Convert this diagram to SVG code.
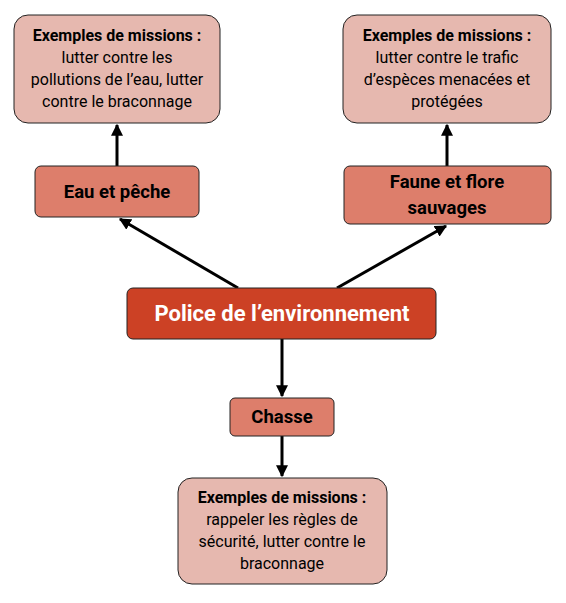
<svg xmlns="http://www.w3.org/2000/svg" width="566" height="603" viewBox="0 0 566 603">
<defs>
<style>
.ex{fill:#e6b8af;stroke:#222;stroke-width:1}
.md{fill:#dd7e6b;stroke:#222;stroke-width:1}
.mn{fill:#cc4125;stroke:#222;stroke-width:1}
text{font-family:Roboto,"Liberation Sans",sans-serif;text-anchor:middle;fill:#000}
.t{font-size:16px}
.b{font-weight:bold;font-size:16px}
.lab{font-size:18.5px;font-weight:bold}
.main{font-size:22px;font-weight:bold;fill:#fff}
.c{stroke:#000;stroke-width:3;fill:none;marker-end:url(#ah)}
</style>
<marker id="ah" viewBox="0 0 10 10" refX="9" refY="5" markerWidth="4" markerHeight="4" orient="auto" markerUnits="strokeWidth">
<path d="M0,0 L10,5 L0,10 z" fill="#000"/>
</marker>
</defs>
<rect width="566" height="603" fill="#fff"/>
<g id="connectors">
<line class="c" x1="117" y1="166" x2="117" y2="125"/>
<line class="c" x1="447" y1="166" x2="447" y2="125"/>
<line class="c" x1="238" y1="288" x2="120" y2="219"/>
<line class="c" x1="337" y1="288" x2="446" y2="226"/>
<line class="c" x1="282" y1="339" x2="282" y2="396"/>
<line class="c" x1="282" y1="436" x2="282" y2="476"/>
</g>
<g id="ex-eau">
<rect class="ex" x="14" y="15" width="206" height="108" rx="14"/>
<text class="t" x="117" y="41"><tspan class="b">Exemples de missions :</tspan><tspan x="117" dy="22">lutter contre les</tspan><tspan x="117" dy="22">pollutions de l’eau, lutter</tspan><tspan x="117" dy="22">contre le braconnage</tspan></text>
</g>
<g id="ex-faune">
<rect class="ex" x="343" y="15" width="208" height="108" rx="14"/>
<text class="t" x="447" y="41"><tspan class="b">Exemples de missions :</tspan><tspan x="447" dy="22">lutter contre le trafic</tspan><tspan x="447" dy="22">d’espèces menacées et</tspan><tspan x="447" dy="22">protégées</tspan></text>
</g>
<g id="eau">
<rect class="md" x="35" y="166" width="164" height="51" rx="6"/>
<text class="lab" x="117" y="198">Eau et pêche</text>
</g>
<g id="faune">
<rect class="md" x="344" y="166" width="207" height="58" rx="6"/>
<text class="lab" x="447" y="188">Faune et flore</text>
<text class="lab" x="447" y="214">sauvages</text>
</g>
<g id="police">
<rect class="mn" x="127" y="288" width="309" height="51" rx="6"/>
<text class="main" x="282" y="321">Police de l’environnement</text>
</g>
<g id="chasse">
<rect class="md" x="230" y="398" width="104" height="38" rx="5"/>
<text class="lab" x="282" y="423">Chasse</text>
</g>
<g id="ex-chasse">
<rect class="ex" x="178" y="478" width="209" height="106" rx="14"/>
<text class="t" x="282" y="503"><tspan class="b">Exemples de missions :</tspan><tspan x="282" dy="22">rappeler les règles de</tspan><tspan x="282" dy="22">sécurité, lutter contre le</tspan><tspan x="282" dy="22">braconnage</tspan></text>
</g>
</svg>
